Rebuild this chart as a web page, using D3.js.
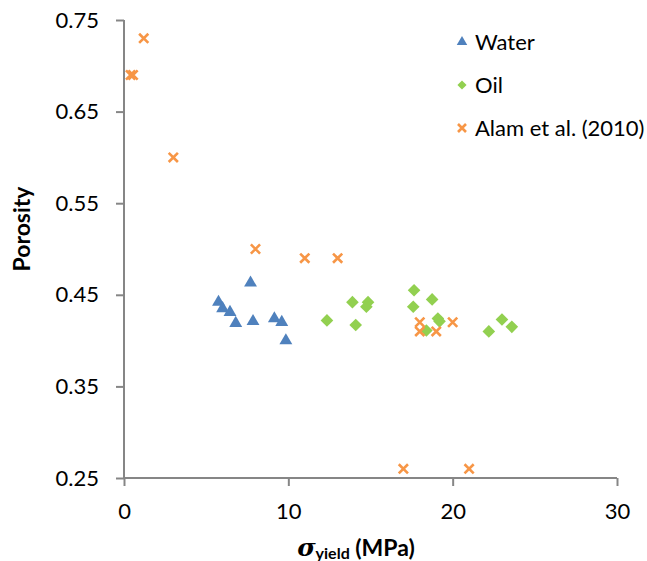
<!DOCTYPE html>
<html>
<head>
<meta charset="utf-8">
<script src="https://cdn.jsdelivr.net/npm/d3@7"></script>
<style>
  body { margin: 0; background: #fff; }
  text { font-family: Lato, "Open Sans", sans-serif; fill: #000; }
</style>
</head>
<body>
<div id="chart"></div>
<script>
// data
var waterX = [7.7, 5.75, 6.0, 6.45, 6.8, 7.85, 9.15, 9.6, 9.85];
var waterY = [0.463, 0.442, 0.435, 0.431, 0.419, 0.421, 0.424, 0.42, 0.4];

var oilX = [12.35, 13.9, 14.85, 14.75, 14.1, 17.65, 17.6, 18.75, 19.1, 19.2, 18.4, 22.2, 23.0, 23.6];
var oilY = [0.422, 0.442, 0.442, 0.437, 0.417, 0.455, 0.437, 0.445, 0.424, 0.421, 0.411, 0.41, 0.423, 0.415];

var alamX = [0.4, 0.55, 1.2, 3.0, 8.0, 11.0, 13.0, 18.0, 18.0, 19.0, 20.0, 17.0, 21.0];
var alamY = [0.69, 0.69, 0.73, 0.6, 0.5, 0.49, 0.49, 0.42, 0.41, 0.41, 0.42, 0.26, 0.26];

var xTicks = [0, 10, 20, 30];
var yTicks = [0.25, 0.35, 0.45, 0.55, 0.65, 0.75];

var seriesNames = ["Water", "Oil", "Alam et al. (2010)"];
var colors = ["#4F81BD", "#92D050", "#F79646"];

function zip(xs, ys) {
  return xs.map(function(x, i) { return { x: x, y: ys[i] }; });
}

var svg = d3.select("#chart").append("svg")
  .attr("width", 647)
  .attr("height", 561);

var x = d3.scaleLinear().domain([0, 30]).range([124, 617]);
var y = d3.scaleLinear().domain([0.25, 0.75]).range([478, 20]);

// axes
var xAxis = d3.axisBottom(x).tickValues(xTicks).tickSize(8).tickPadding(17);
var yAxis = d3.axisLeft(y).tickValues(yTicks).tickSize(8).tickPadding(17)
  .tickFormat(d3.format(".2f"));

var xg = svg.append("g").attr("transform", "translate(0,478)").call(xAxis);
var yg = svg.append("g").attr("transform", "translate(124,0)").call(yAxis);

[xg, yg].forEach(function(g) {
  g.select(".domain").attr("stroke", "#868686").attr("stroke-width", 2);
  g.selectAll(".tick line").attr("stroke", "#868686").attr("stroke-width", 2);
  g.selectAll(".tick text").attr("font-size", "22px").attr("fill", "#000")
    .style("font-family", "Lato, 'Open Sans', sans-serif");
});
// Excel style domain: no end caps
xg.select(".domain").attr("d", "M124,0H617");
yg.select(".domain").attr("d", "M0,20V478");

// axis titles
svg.append("text")
  .attr("transform", "translate(30,229) rotate(-90)")
  .attr("text-anchor", "middle")
  .attr("font-size", "23px")
  .attr("font-weight", "bold")
  .text("Porosity");

var xt = svg.append("text")
  .attr("x", 356)
  .attr("y", 556)
  .attr("text-anchor", "middle")
  .attr("font-size", "23px")
  .attr("font-weight", "bold");
xt.append("tspan").attr("font-style", "italic").attr("font-family", "'DejaVu Serif', serif")
  .attr("font-size", "25px").text("σ");
xt.append("tspan").attr("font-size", "16px").attr("dy", 3).text("yield");
xt.append("tspan").attr("dy", -3).text(" (MPa)");

// markers
function drawTri(g, px, py, s) {
  g.append("path")
    .attr("d", d3.symbol().type(d3.symbolTriangle).size(s)())
    .attr("transform", "translate(" + px + "," + py + ")")
    .attr("fill", colors[0]);
}
function drawDia(g, px, py, s) {
  g.append("path")
    .attr("d", d3.symbol().type(d3.symbolSquare).size(s)())
    .attr("transform", "translate(" + px + "," + py + ") rotate(45)")
    .attr("fill", colors[1]);
}
function drawX(g, px, py, h) {
  g.append("path")
    .attr("d", "M" + (px - h) + "," + (py - h) + "L" + (px + h) + "," + (py + h) +
               "M" + (px - h) + "," + (py + h) + "L" + (px + h) + "," + (py - h))
    .attr("stroke", colors[2])
    .attr("stroke-width", 2.6)
    .attr("fill", "none");
}

var plot = svg.append("g");

zip(waterX, waterY).forEach(function(d) { drawTri(plot, x(d.x), y(d.y), 72); });
zip(oilX, oilY).forEach(function(d) { drawDia(plot, x(d.x), y(d.y), 80); });
zip(alamX, alamY).forEach(function(d) { drawX(plot, x(d.x), y(d.y), 4.6); });

// legend
var legend = svg.append("g");
var legendY = [42, 85, 128];
seriesNames.forEach(function(name, i) {
  var lx = 462, ly = legendY[i];
  if (i === 0) drawTri(legend, lx, ly, 48);
  if (i === 1) drawDia(legend, lx, ly, 42);
  if (i === 2) drawX(legend, lx, ly, 4);
  legend.append("text")
    .attr("x", 475)
    .attr("y", ly + 8)
    .attr("font-size", "22px")
    .text(name);
});
</script>
</body>
</html>
